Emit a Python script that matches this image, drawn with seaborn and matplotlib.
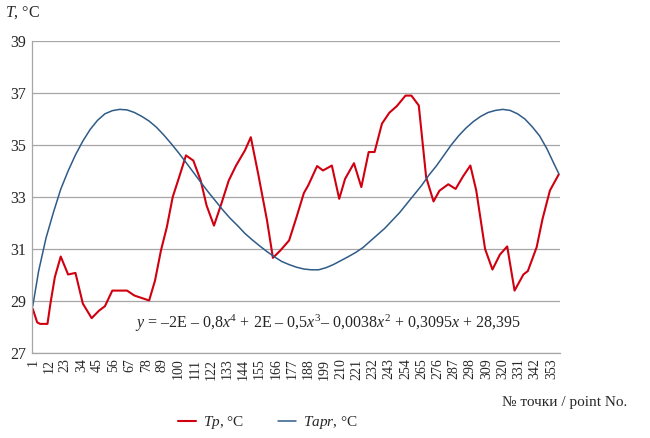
import numpy as np
import pandas as pd
import matplotlib
matplotlib.use('Agg')
import matplotlib.pyplot as plt
import seaborn as sns

tp_idx = [1, 4, 6, 11, 13, 16, 20, 25, 30, 35, 41, 46, 50, 55, 65, 70, 80, 84, 88, 92,
          96, 100, 105, 110, 115, 119, 124, 129, 134, 139, 145, 149, 154, 160, 164, 169,
          175, 180, 185, 188, 194, 198, 204, 209, 213, 219, 224, 229, 233, 238, 243, 248,
          254, 258, 263, 268, 273, 277, 283, 288, 293, 298, 302, 308, 313, 318, 323, 328,
          334, 337, 343, 347, 352, 358]
tp_val = [28.70, 28.18, 28.12, 28.12, 28.90, 29.92, 30.71, 30.02, 30.08, 28.90, 28.34,
          28.63, 28.80, 29.40, 29.40, 29.21, 29.02, 29.79, 30.94, 31.84, 33.00, 33.70,
          34.60, 34.40, 33.63, 32.67, 31.90, 32.74, 33.63, 34.21, 34.79, 35.30, 33.89,
          32.10, 30.66, 30.94, 31.33, 32.22, 33.15, 33.45, 34.19, 34.02, 34.21, 32.93,
          33.70, 34.30, 33.38, 34.73, 34.73, 35.82, 36.24, 36.49, 36.90, 36.90, 36.52,
          33.76, 32.83, 33.24, 33.49, 33.31, 33.79, 34.21, 33.25, 31.00, 30.21, 30.78,
          31.10, 29.40, 30.02, 30.15, 31.07, 32.16, 33.25, 33.87]

# approximation Tapr (trend line)
tapr_idx = [1, 5, 10, 15, 20, 25, 30, 35, 40, 45, 50, 55, 60, 65, 70, 75, 80, 85, 90, 95,
            100, 105, 110, 115, 120, 125, 130, 135, 140, 145, 150, 155, 160, 165, 170, 175,
            180, 185, 190, 195, 200, 205, 210, 215, 220, 225, 230, 235, 240, 245, 250, 255,
            260, 265, 270, 275, 280, 285, 290, 295, 300, 305, 310, 315, 320, 325, 330, 335,
            340, 345, 350, 355, 358]
tapr_val = [28.80, 30.15, 31.42, 32.40, 33.30, 34.00, 34.62, 35.15, 35.60, 35.95, 36.20,
            36.32, 36.37, 36.35, 36.25, 36.10, 35.92, 35.68, 35.38, 35.05, 34.70, 34.33,
            33.95, 33.57, 33.20, 32.85, 32.50, 32.18, 31.90, 31.60, 31.35, 31.12, 30.90,
            30.70, 30.52, 30.40, 30.30, 30.23, 30.20, 30.20, 30.28, 30.40, 30.55, 30.70,
            30.86, 31.05, 31.30, 31.55, 31.80, 32.10, 32.40, 32.75, 33.10, 33.45, 33.85,
            34.20, 34.60, 35.00, 35.35, 35.65, 35.90, 36.10, 36.25, 36.33, 36.37, 36.33,
            36.20, 36.00, 35.70, 35.35, 34.85, 34.25, 33.90]

n_points = 358
x_labels = list(range(1, n_points + 1, 11))
y_ticks = [27, 29, 31, 33, 35, 37, 39]

equation = (r"$y$ = –2E – 0,8$x^4$ + 2E – 0,5$x^3$– 0,0038$x^2$"
            r" + 0,3095$x$ + 28,395")

sns.set_style('white')
plt.rcParams['font.family'] = ['Liberation Serif', 'DejaVu Serif']
plt.rcParams['mathtext.fontset'] = 'custom'
plt.rcParams['mathtext.rm'] = 'Liberation Serif'
plt.rcParams['mathtext.it'] = 'Liberation Serif:italic'

df_tp = pd.DataFrame({'x': tp_idx, 'T': tp_val})
df_tapr = pd.DataFrame({'x': tapr_idx, 'T': tapr_val})

fig = plt.figure(figsize=(6.5, 4.38), dpi=100)
ax = fig.add_axes([32 / 650, 1 - 353 / 438, 527.5 / 650, 312 / 438])

sns.lineplot(data=df_tp, x='x', y='T', ax=ax, color='#d00010', linewidth=1.5,
             label=r'$Tp$, °C')
sns.lineplot(data=df_tapr, x='x', y='T', ax=ax, color='#2f5b88', linewidth=1.1,
             label=r'$Tapr$, °C')

ax.set_xlim(0.5, n_points + 0.5)
ax.set_ylim(27, 39)
ax.set_yticks(y_ticks)
ax.set_yticklabels([str(v) for v in y_ticks], fontsize=11.5)
ax.set_xticks(x_labels)
ax.set_xticklabels([str(v) for v in x_labels], rotation=90, fontsize=10)
ax.set_xticks(np.arange(0.5, n_points + 1, 2), minor=True)
ax.tick_params(axis='x', which='major', length=0, pad=4)
ax.tick_params(axis='x', which='minor', length=2.5, color='#8c8c8c', width=0.6)
ax.tick_params(axis='y', length=0, pad=4)
ax.set_xlabel('')
ax.set_ylabel('')

ax.grid(axis='y', color='#a6a6a6', linewidth=0.9)
ax.grid(axis='x', visible=False)
for side in ['top', 'right']:
    ax.spines[side].set_visible(False)
for side in ['left', 'bottom']:
    ax.spines[side].set_color('#a6a6a6')
    ax.spines[side].set_linewidth(0.9)

ax.text(0.195, 0.095, equation, transform=ax.transAxes, fontsize=11.5,
        ha='left', va='center')

fig.text(0.008, 0.97, r'$T$, °C', fontsize=11.5, ha='left', va='center')
fig.text(0.965, 0.082, '№ точки / point No.', fontsize=11, ha='right', va='center')

ax.get_legend().remove()
handles, labels = ax.get_legend_handles_labels()
fig.legend(handles, labels, loc='center', bbox_to_anchor=(0.412, 0.035), ncol=2,
           frameon=False, fontsize=11, handlelength=1.2, columnspacing=2.2,
           handletextpad=0.45)

plt.savefig('out.png', dpi=100)
